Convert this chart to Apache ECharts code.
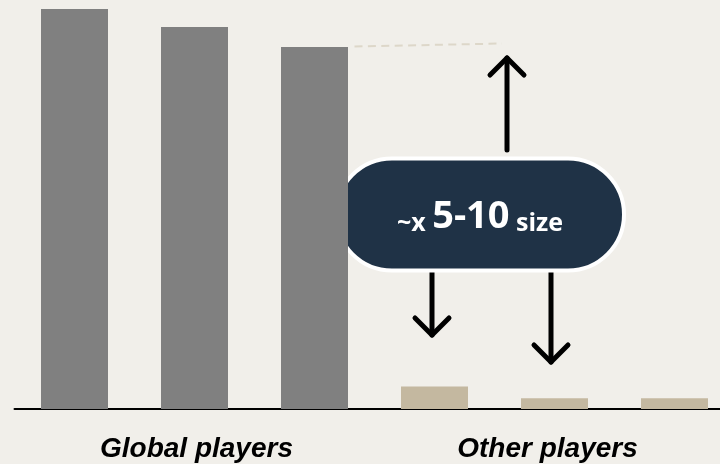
<!DOCTYPE html>
<html>
<head>
<meta charset="utf-8">
<script src="https://cdn.jsdelivr.net/npm/echarts@6/dist/echarts.min.js"></script>
<style>
  html, body { margin: 0; padding: 0; background: #f1efea; overflow: hidden; }
  #chart { width: 735px; height: 464px; }
</style>
</head>
<body>
<div id="chart"></div>
<script>
// Market players by size
const categories = ['Global 1', 'Global 2', 'Global 3', 'Other 1', 'Other 2', 'Other 3'];
const sizes = [100, 95.5, 90.5, 5.6, 2.7, 2.7];
const groupLabels = ['Global players', 'Other players'];
const calloutText = ['~x ', '5-10', ' size'];

const GLOBAL_COLOR = '#808080';
const OTHER_COLOR = '#c4b8a0';
const NAVY = '#1f3246';

const chart = echarts.init(document.getElementById('chart'), null, { renderer: 'canvas' });

chart.setOption({
  backgroundColor: '#f1efea',
  animation: false,
  grid: { left: 14.5, top: 9, width: 720, height: 400 },
  xAxis: {
    type: 'category',
    data: categories,
    axisLine: { show: true, lineStyle: { color: '#000', width: 2 } },
    axisTick: { show: false },
    axisLabel: { show: false }
  },
  yAxis: {
    type: 'value',
    min: 0,
    max: 100,
    show: false,
    splitLine: { show: false }
  },
  series: [{
    type: 'bar',
    barWidth: 67,
    data: sizes.map((v, i) => ({
      value: v,
      itemStyle: { color: i < 3 ? GLOBAL_COLOR : OTHER_COLOR }
    }))
  }]
});

// Annotation overlay: dashed guide, callout pill, arrows and group labels
const top3 = chart.convertToPixel({ seriesIndex: 0 }, [2, sizes[2]]);

function arrow(x, y1, y2) {
  const dir = y2 < y1 ? 1 : -1;
  return {
    type: 'group',
    children: [
      { type: 'line', shape: { x1: x, y1: y1, x2: x, y2: y2 },
        style: { stroke: '#000', lineWidth: 5, lineCap: 'round' } },
      { type: 'polyline', shape: { points: [[x - 17, y2 + dir * 17], [x, y2], [x + 17, y2 + dir * 17]] },
        style: { stroke: '#000', fill: null, lineWidth: 5, lineCap: 'round', lineJoin: 'round' } }
    ]
  };
}

chart.setOption({
  graphic: [
    { type: 'line', shape: { x1: top3[0] + 40, y1: top3[1] - 0.5, x2: 502, y2: 43.5 },
      style: { stroke: '#ddd7c9', lineWidth: 2, lineDash: [8, 5.4] } },
    arrow(507, 150, 58),
    arrow(432, 272, 335),
    arrow(551, 272, 362),
    { type: 'rect', shape: { x: 336, y: 158.5, width: 288, height: 112, r: 56 },
      style: { fill: NAVY, stroke: '#ffffff', lineWidth: 4 } },
    { type: 'text', x: 480, y: 215,
      style: {
        text: '{s|' + calloutText[0] + '}{b|' + calloutText[1] + '}{s|' + calloutText[2] + '}',
        align: 'center', verticalAlign: 'middle',
        rich: {
          s: { fontFamily: 'Open Sans', fontWeight: 'bold', fontSize: 25, fill: '#fff', verticalAlign: 'bottom', lineHeight: 42 },
          b: { fontFamily: 'Open Sans', fontWeight: 'bold', fontSize: 38, fill: '#fff', verticalAlign: 'bottom', lineHeight: 42 }
        }
      } },
    { type: 'text', x: 196.5, y: 449,
      style: { text: groupLabels[0], fontFamily: 'Liberation Sans', fontWeight: 'bold', fontStyle: 'italic',
               fontSize: 28, fill: '#000', align: 'center', verticalAlign: 'middle' } },
    { type: 'text', x: 547.5, y: 449,
      style: { text: groupLabels[1], fontFamily: 'Liberation Sans', fontWeight: 'bold', fontStyle: 'italic',
               fontSize: 28, fill: '#000', align: 'center', verticalAlign: 'middle' } }
  ]
});
</script>
</body>
</html>
